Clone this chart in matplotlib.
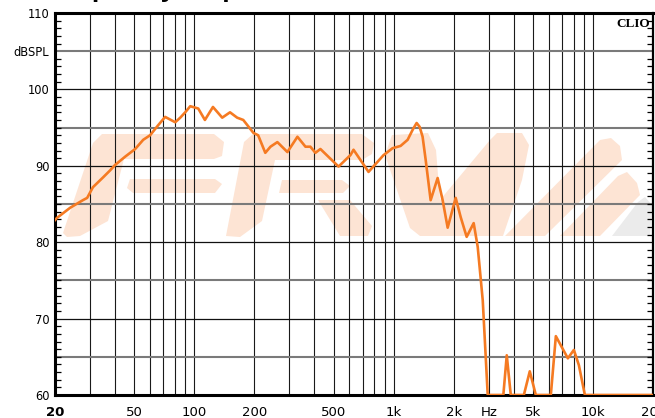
import numpy as np
import matplotlib
matplotlib.use('Agg')
import matplotlib.pyplot as plt
from matplotlib.patches import Polygon

plt.rcParams['font.family'] = ['Liberation Sans', 'DejaVu Sans']

# frequency response (Hz, dB SPL)
freq = [20, 20.5, 23.8, 27.6, 29.0, 31.0, 34.9, 37.8, 40.0, 45.0, 50.5, 55.4,
        60.0, 65.8, 71.4, 80.2, 85.0, 90.0, 95.4, 104.6, 113, 124, 138, 151,
        164, 176, 198, 209, 227, 241, 261, 293, 329, 361, 382, 405, 429, 529,
        607, 629, 748, 890, 987, 1083, 1175, 1250, 1304, 1350, 1397, 1447, 1533, 1662,
        1761, 1866, 2047, 2168, 2324, 2520, 2640, 2798, 2964, 3550, 3693,
        3868, 4500, 4818, 5166, 6144, 6511, 7480, 8018, 8496, 9104, 20000]
spl = [82.9, 83.2, 84.5, 85.5, 85.8, 87.2, 88.5, 89.4, 90.1, 91.2, 92.2, 93.4,
       94.0, 95.3, 96.4, 95.7, 96.3, 97.0, 97.8, 97.5, 96.0, 97.7, 96.3, 97.0,
       96.3, 96.0, 94.3, 94.0, 91.7, 92.5, 93.1, 91.8, 93.8, 92.5, 92.5, 91.7,
       92.2, 89.9, 91.4, 92.1, 89.2, 91.4, 92.3, 92.6, 93.4, 94.8, 95.6, 95.1, 93.8, 90.8,
       85.5, 88.4, 85.5, 81.9, 85.8, 83.3, 80.7, 82.5, 79.4, 72.4, 60, 60,
       65.2, 60, 60, 63.1, 60, 60, 67.7, 64.8, 65.9, 63.9, 60, 60]

xtick_pos = [20, 50, 100, 200, 500, 1000, 2000, 3000, 5000, 10000, 20000]
xtick_lab = ['20', '50', '100', '200', '500', '1k', '2k', 'Hz', '5k', '10k', '20k']
ytick_pos = [60, 70, 80, 90, 100, 105, 110]
ytick_lab = ['60', '70', '80', '90', '100', 'dBSPL', '110']

grid_freqs = [f * d for d in (10, 100, 1000) for f in range(2, 10)] + [100, 1000, 10000]
grid_freqs = [f for f in grid_freqs if 20 < f < 20000]

W, H = 655, 418
fig = plt.figure(figsize=(W / 100, H / 100), dpi=100)
ax = fig.add_axes([55 / W, 23 / H, 598 / W, 382 / H])
ax.set_xscale('log')
ax.set_xlim(20, 20000)
ax.set_ylim(60, 110)

# watermark logo (pixel coords of the figure, y down)
def px(pts):
    return [(x / W, 1 - y / H) for x, y in pts]

peach = '#fde4d4'
logo = [
    [(63, 233), (93, 143), (102, 134), (214, 134), (224, 142), (222, 156), (214, 159),
     (124, 159), (108, 221), (80, 236), (67, 237)],
    [(130, 179), (215, 179), (222, 184), (215, 193), (133, 193), (127, 188)],
    [(226, 236), (244, 142), (253, 134), (362, 134), (374, 143), (372, 154), (362, 160),
     (275, 160), (262, 221), (240, 237)],
    [(282, 180), (342, 180), (350, 186), (343, 193), (279, 193)],
    [(318, 200), (350, 200), (372, 226), (368, 236), (340, 236)],
    [(392, 135), (428, 133), (436, 150), (440, 200), (490, 140), (497, 133), (522, 133),
     (529, 145), (522, 180), (503, 236), (420, 236), (410, 228), (385, 155)],
    [(505, 236), (545, 236), (622, 160), (620, 146), (611, 138), (600, 140)],
    [(560, 236), (600, 236), (640, 195), (637, 183), (627, 172), (618, 176)],
]
for pts in logo:
    ax.add_patch(Polygon(px(pts), closed=True, transform=fig.transFigure,
                         facecolor=peach, edgecolor='none', zorder=0.5))
ax.add_patch(Polygon(px([(612, 236), (650, 236), (652, 205), (645, 197), (638, 202)]),
                     closed=True, transform=fig.transFigure,
                     facecolor='#ebebeb', edgecolor='none', zorder=0.5))

# grid
for f in grid_freqs:
    ax.axvline(f, color='#1a1a1a', lw=0.8, zorder=1)
for y in range(65, 110, 5):
    if y % 10 == 0:
        ax.axhline(y, color='#111111', lw=0.9, zorder=1)
    else:
        ax.axhline(y, color='#7a7a7a', lw=1.5, zorder=1)

ax.plot(freq, spl, color='#f57a22', lw=1.9, zorder=3, solid_joinstyle='round')

ax.set_xticks(xtick_pos)
ax.set_xticklabels(xtick_lab, fontsize=9.5, family='DejaVu Sans')
ax.get_xticklabels()[0].set_fontweight('bold')
ax.xaxis.set_minor_locator(matplotlib.ticker.NullLocator())
ax.tick_params(axis='x', which='major', length=0, pad=8)

ax.set_yticks(ytick_pos)
ax.set_yticklabels(ytick_lab, fontsize=8.3, family='DejaVu Sans')
ax.set_yticks(np.arange(60, 111, 1), minor=True)
ax.tick_params(axis='y', which='major', length=0, pad=4)
ax.tick_params(axis='y', which='minor', direction='in', length=4, width=0.9,
               left=True, right=True)

for side in ['left', 'top', 'bottom']:
    ax.spines[side].set_linewidth(2.2)
ax.spines['right'].set_linewidth(1.6)

ax.text(0.995, 0.988, 'CLIO', transform=ax.transAxes, ha='right', va='top',
        family='Liberation Serif', fontweight='bold', fontsize=9.5, zorder=4)

# title sits mostly above the top edge, only the descenders show
fig.text(42 / W, 1 + 3.5 / H, 'Frequency response', fontsize=19, fontweight='bold',
         va='baseline', ha='left')

fig.savefig('out.png', dpi=100)
